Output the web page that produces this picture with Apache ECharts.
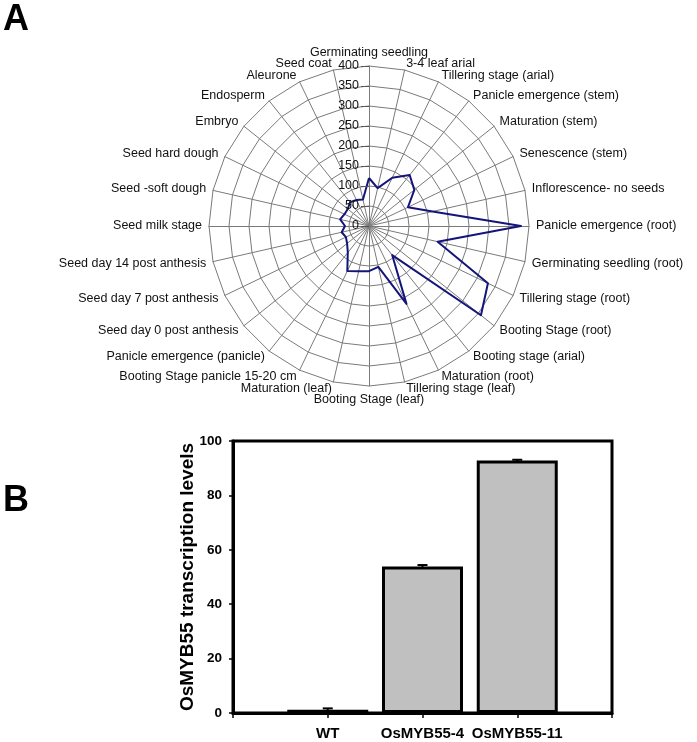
<!DOCTYPE html>
<html>
<head>
<meta charset="utf-8">
<script src="https://cdn.jsdelivr.net/npm/echarts@6/dist/echarts.min.js"></script>
<style>
html,body{margin:0;padding:0;background:#fff;}
#chart{width:697px;height:742px;}
</style>
</head>
<body>
<div id="chart"></div>
<script>
// ---- Panel A: radar (clockwise from top) ----
const tissues = [
  'Germinating seedling', '3-4 leaf arial', 'Tillering stage (arial)', 'Panicle emergence (stem)',
  'Maturation (stem)', 'Senescence (stem)', 'Inflorescence- no seeds', 'Panicle emergence (root)',
  'Germinating seedling (root)', 'Tillering stage (root)', 'Booting Stage (root)', 'Booting stage (arial)',
  'Maturation (root)', 'Tillering stage (leaf)', 'Booting Stage (leaf)', 'Maturation (leaf)',
  'Booting Stage panicle 15-20 cm', 'Panicle emergence (panicle)', 'Seed day 0 post anthesis',
  'Seed day 7 post anthesis', 'Seed day 14 post anthesis', 'Seed milk stage', 'Seed -soft dough',
  'Seed hard dough', 'Embryo', 'Endosperm', 'Aleurone', 'Seed coat'
];
const expression = [
  120, 97, 134, 163, 145, 108, 163, 380,
  176, 330, 358, 93, 216, 105, 113, 116,
  125, 85, 70, 64, 70, 60, 74, 68,
  68, 76, 72, 68
];
const radarMax = 400;
const radarStep = 50;

// ---- Panel B: bars ----
const lines = ['', 'WT', 'OsMYB55-4', 'OsMYB55-11', ''];
const levels = [null, 1.2, 53.9, 92.8, null];
const levelErr = [null, 0.5, 0.5, 0.3, null];
const barYMin = 0, barYMax = 100, barYStep = 20;

// ECharts radar runs counter-clockwise: reorder to read clockwise
const order = [0].concat(tissues.map((_, i) => i).slice(1).reverse());
const indicators = order.map(i => ({ name: tissues[i], max: radarMax, min: 0 }));
const radarValues = order.map(i => expression[i]);

const chart = echarts.init(document.getElementById('chart'));
const cx = 369, cy = 226, R = 160;
const sans = 'Liberation Sans, Arial, sans-serif';

chart.setOption({
  animation: false,
  title: [
    { text: 'A', left: -2, top: -3, textStyle: { fontSize: 36, fontWeight: 'bold', color: '#000', fontFamily: sans } },
    { text: 'B', left: -2, top: 478, textStyle: { fontSize: 36, fontWeight: 'bold', color: '#000', fontFamily: sans } }
  ],
  radar: {
    center: [cx, cy],
    radius: R,
    startAngle: 90,
    shape: 'polygon',
    splitNumber: radarMax / radarStep,
    indicator: indicators,
    nameGap: 7,
    axisName: { color: '#111', fontSize: 12.5, fontFamily: sans },
    splitLine: { lineStyle: { color: '#7a7a7a', width: 1 } },
    axisLine: { lineStyle: { color: '#7a7a7a', width: 1 } },
    splitArea: { show: false }
  },
  polar: { center: [cx, cy], radius: R },
  angleAxis: { type: 'value', startAngle: 90, min: 0, max: 360, show: false },
  radiusAxis: {
    type: 'value', min: 0, max: radarMax, interval: radarStep, z: 10,
    axisLine: { show: false },
    axisTick: { show: true, length: 8, lineStyle: { color: '#555' } },
    splitLine: { show: false },
    axisLabel: { color: '#111', fontSize: 12.5, margin: 10, fontFamily: sans }
  },
  grid: {
    left: 233, top: 441, width: 379, height: 272,
    show: true, borderColor: '#000', borderWidth: 3, backgroundColor: 'transparent'
  },
  xAxis: {
    type: 'category', data: lines, boundaryGap: false, gridIndex: 0,
    axisLine: { lineStyle: { color: '#000', width: 3 } },
    axisTick: { show: true, length: 5, lineStyle: { color: '#000', width: 1.5 }, interval: 0 },
    axisLabel: { color: '#000', fontSize: 15, fontWeight: 'bold', margin: 13, fontFamily: sans, interval: 0 },
    splitLine: { show: false }
  },
  yAxis: {
    type: 'value', min: barYMin, max: barYMax, interval: barYStep, gridIndex: 0,
    name: 'OsMYB55 transcription levels', nameLocation: 'middle', nameGap: 36,
    nameMoveOverlap: false,
    nameTextStyle: { color: '#000', fontSize: 19, fontWeight: 'bold', fontFamily: sans },
    axisLine: { show: true, lineStyle: { color: '#000', width: 3 } },
    axisTick: { show: true, length: 4, lineStyle: { color: '#000', width: 1.5 } },
    axisLabel: { color: '#000', fontSize: 13.5, fontWeight: 'bold', margin: 11, fontFamily: sans },
    splitLine: { show: false }
  },
  series: [
    {
      type: 'radar',
      symbol: 'none',
      lineStyle: { color: '#14147a', width: 2 },
      areaStyle: { opacity: 0 },
      data: [{ value: radarValues }]
    },
    {
      type: 'bar',
      data: levels,
      barWidth: 81,
      itemStyle: { color: '#c0c0c0', borderColor: '#000', borderWidth: 3 }
    },
    {
      type: 'custom',
      data: levels.map((v, i) => v == null ? null : [i, v, levelErr[i]]).filter(d => d),
      encode: { x: 0, y: 1 },
      z: 5,
      renderItem: function (params, api) {
        const x = api.value(0), v = api.value(1), e = api.value(2);
        const hi = api.coord([x, v + e]);
        const lo = api.coord([x, v - e]);
        const hw = 5;
        return {
          type: 'group',
          children: [
            { type: 'line', shape: { x1: hi[0], y1: hi[1], x2: lo[0], y2: lo[1] }, style: { stroke: '#000', lineWidth: 2 } },
            { type: 'line', shape: { x1: hi[0] - hw, y1: hi[1], x2: hi[0] + hw, y2: hi[1] }, style: { stroke: '#000', lineWidth: 2 } }
          ]
        };
      }
    }
  ]
});
</script>
</body>
</html>
